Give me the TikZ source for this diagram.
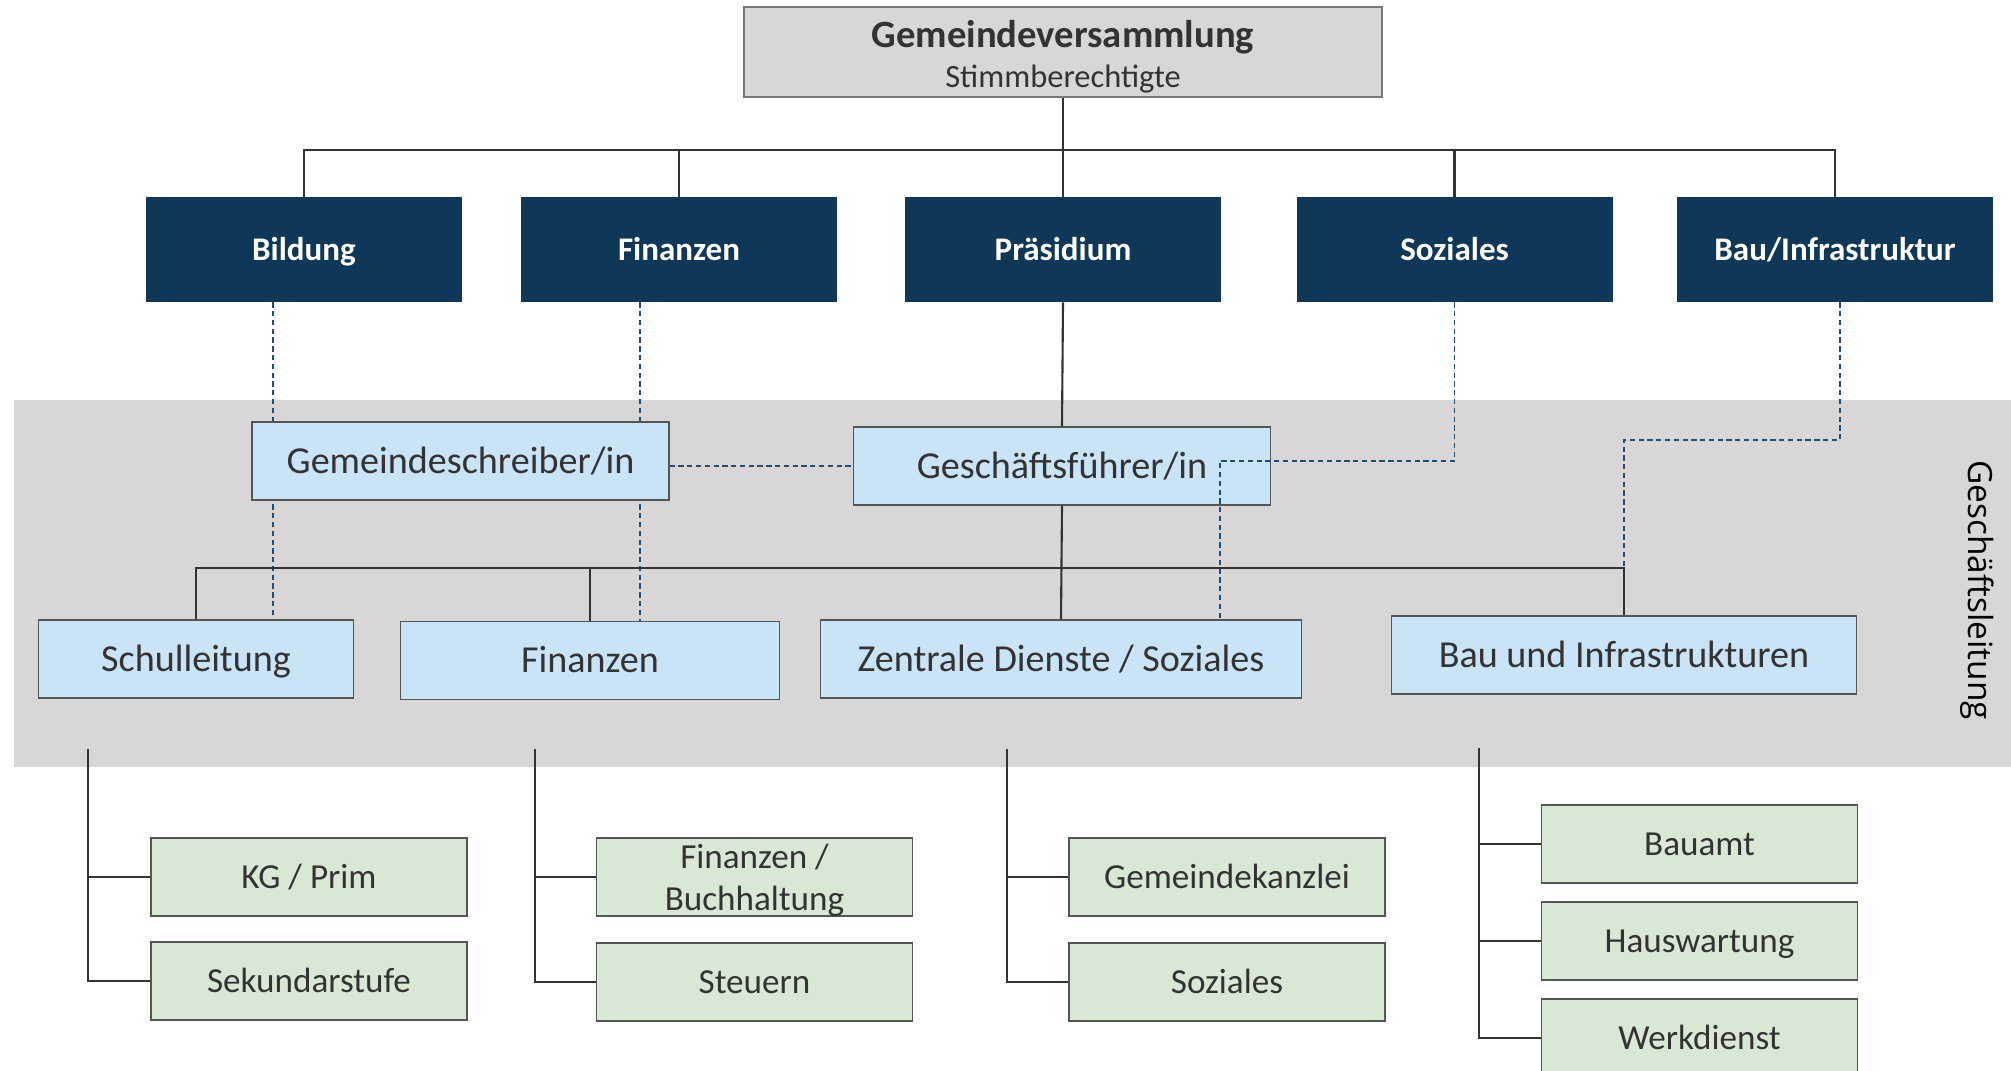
\documentclass[tikz,border=0pt]{standalone}
\usepackage{fontspec}
\setmainfont{Carlito}
\newfontfamily\glfont{Open Sans}
\usetikzlibrary{calc,backgrounds}
\definecolor{navy}{HTML}{0F3757}
\definecolor{lblue}{HTML}{C9E3F7}
\definecolor{lgreen}{HTML}{D9E8D5}
\definecolor{band}{HTML}{D8D6D7}
\definecolor{txt}{HTML}{333333}
\definecolor{dashblue}{HTML}{1F4E79}
\definecolor{edge}{HTML}{555555}
\newcommand\pxu{0.02cm}
\begin{document}
\begin{tikzpicture}[x=0.02cm,y=-0.02cm,
  topbox/.style={draw=edge!80, fill=band, minimum width=638*\pxu, minimum height=90*\pxu, align=center, text=txt, inner sep=0pt, line width=0.7pt},
  navybox/.style={fill=navy, text=white, font=\fontsize{18.8}{22}\selectfont\bfseries, minimum width=316*\pxu, minimum height=105*\pxu, inner sep=0pt, text height=12pt, text depth=0pt},
  bluebox/.style={draw=edge, fill=lblue, text=txt, font=\fontsize{21.7}{25}\selectfont, minimum height=78*\pxu, inner sep=0pt, line width=0.7pt, text height=13.9pt, text depth=0pt},
  greenbox/.style={draw=edge, fill=lgreen, text=txt, font=\fontsize{20}{24}\selectfont, minimum width=316*\pxu, minimum height=78*\pxu, inner sep=0pt, align=center, line width=0.7pt},
  greenone/.style={greenbox, text height=12.8pt, text depth=0pt},
  conn/.style={draw=txt, line width=1.2pt},
  dep/.style={draw=dashblue, line width=0.7pt, dash pattern=on 3pt off 2pt}
]
\useasboundingbox (0,0) rectangle (2011,1071);
\clip (0,0) rectangle (2011,1071);

% top
\node[topbox, font=\fontsize{18.5}{22.6}\selectfont, text height=40pt, text depth=0pt] (gv) at (1063,52) {{\fontsize{22}{22.6}\selectfont\bfseries Gemeindeversammlung}\\Stimmberechtigte};

% departments
\node[navybox] (bild) at (304,249.5) {Bildung};
\node[navybox] (fin) at (679,249.5) {Finanzen};
\node[navybox] (praes) at (1063,249.5) {Präsidium};
\node[navybox] (soz) at (1454.5,249.5) {Soziales};
\node[navybox] (bau) at (1835,249.5) {Bau/Infrastruktur};

% Geschaeftsleitung level
\node[bluebox, minimum width=417*\pxu] (gs) at (460.5,461) {Gemeindeschreiber/in};
\node[bluebox, minimum width=417*\pxu] (gf) at (1062,466) {Geschäftsführer/in};
\node[bluebox, minimum width=315*\pxu] (schul) at (196,659) {Schulleitung};
\node[bluebox, minimum width=378.5*\pxu] (fin2) at (590,660.5) {Finanzen};
\node[bluebox, minimum width=480.5*\pxu] (zd) at (1061,659) {Zentrale Dienste / Soziales};
\node[bluebox, minimum width=465.5*\pxu] (bau2) at (1624,655) {Bau und Infrastrukturen};

\node[rotate=-90, font=\glfont\fontsize{19}{21}\selectfont, text=black, inner sep=0pt] (gl) at (1977,590) {Geschäftsleitung};

% sub units
\node[greenone] (kg) at (309,877) {KG / Prim};
\node[greenone] (sek) at (309,981) {Sekundarstufe};
\node[greenbox, text height=38pt, text depth=0pt] (fb) at (754.5,877) {Finanzen /\\Buchhaltung};
\node[greenone] (st) at (754.5,982) {Steuern};
\node[greenone] (gk) at (1227,877) {Gemeindekanzlei};
\node[greenone] (soz2) at (1227,982) {Soziales};
\node[greenone] (ba) at (1699.5,844) {Bauamt};
\node[greenone] (hw) at (1699.5,941) {Hauswartung};
\node[greenone] (wd) at (1699.5,1038) {Werkdienst};

% background band and hidden dashed lines
\begin{pgfonlayer}{background}
  \fill[band] (14,400) rectangle (2011,767);
  \draw[dep] ([xshift=-31*\pxu]bild.south) -- ([xshift=-31*\pxu]bild.south |- schul.north);
  \draw[dep] ([xshift=-39*\pxu]fin.south) -- ([xshift=-39*\pxu]fin.south |- fin2.north);
\end{pgfonlayer}

% solid connectors
\coordinate (busA) at (0,150);
\coordinate (busB) at (0,568);
\draw[conn] (gv.south) -- (praes.north);
\draw[conn] (bild.north) -- (bild.north |- busA) -- (bau.north |- busA) -- (bau.north);
\draw[conn] (fin.north) -- (fin.north |- busA);
\draw[conn] (soz.north) -- (soz.north |- busA);
\draw[conn] (praes.south) -- (gf.north);
\draw[conn] (gf.south) -- (zd.north);
\draw[conn] (schul.north) -- (schul.north |- busB) -- (bau2.north |- busB) -- (bau2.north);
\draw[conn] (fin2.north) -- (fin2.north |- busB);

\coordinate (s1) at (88,749);
\coordinate (s2) at (534.6,749);
\coordinate (s3) at (1007,749);
\coordinate (s4) at (1478.7,748);
\draw[conn] (s1) |- (sek.west);
\draw[conn] (s1 |- kg.west) -- (kg.west);
\draw[conn] (s2) |- (st.west);
\draw[conn] (s2 |- fb.west) -- (fb.west);
\draw[conn] (s3) |- (soz2.west);
\draw[conn] (s3 |- gk.west) -- (gk.west);
\draw[conn] (s4) |- (wd.west);
\draw[conn] (s4 |- ba.west) -- (ba.west);
\draw[conn] (s4 |- hw.west) -- (hw.west);

% dashed relations
\draw[dep] (gs.east |- gf.west) -- (gf.west);
\coordinate (sk) at (1220,461);
\draw[dep] (soz.south) |- (sk) -- (sk |- zd.north);
\coordinate (bk) at (1624,440);
\draw[dep] ([xshift=5*\pxu]bau.south) |- (bk) -- (bk |- busB);
\end{tikzpicture}
\end{document}
